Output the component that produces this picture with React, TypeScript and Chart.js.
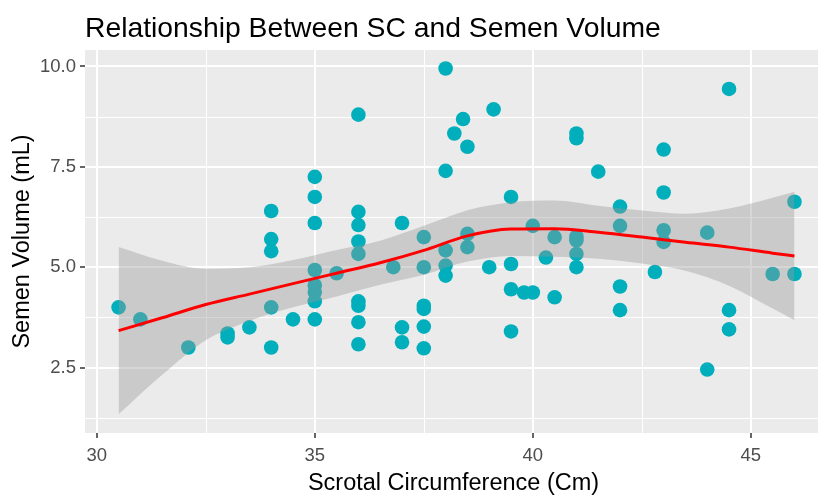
import { useEffect, useRef } from 'react';
import { Chart, registerables } from 'chart.js';

Chart.register(...registerables);

const TITLE = 'Relationship Between SC and Semen Volume';
const X_LABEL = 'Scrotal Circumference (Cm)';
const Y_LABEL = 'Semen Volume (mL)';

const xTicks = [30, 35, 40, 45];
const yTicks = [2.5, 5, 7.5, 10];
const xMinor = [32.5, 37.5, 42.5];
const yMinor = [1.25, 3.75, 6.25, 8.75];

// Observations: scrotal circumference (cm) and semen volume (mL)
const scrotal = [
  30.5, 31.0, 32.1, 33.0, 33.0, 33.5,
  34.0, 34.0, 34.0, 34.0, 34.0, 34.5,
  35.0, 35.0, 35.0, 35.0, 35.0, 35.0, 35.0, 35.0, 35.5,
  36.0, 36.0, 36.0, 36.0, 36.0, 36.0, 36.0, 36.0, 36.0, 36.8,
  37.0, 37.0, 37.0, 37.5, 37.5, 37.5, 37.5, 37.5, 37.5,
  38.0, 38.0, 38.0, 38.0, 38.0, 38.2, 38.4, 38.5, 38.5, 38.5,
  39.0, 39.1, 39.5, 39.5, 39.5, 39.5, 39.8, 40.0, 40.0, 40.3, 40.5, 40.5,
  41.0, 41.0, 41.0, 41.0, 41.0, 41.0, 41.5,
  42.0, 42.0, 42.0, 42.0, 42.8, 43.0, 43.0, 43.0, 43.0,
  44.0, 44.0, 44.5, 44.5, 44.5, 45.5, 46.0, 46.0,
];
const volume = [
  4.0, 3.7, 3.0, 3.35, 3.25, 3.5,
  6.4, 5.7, 5.4, 4.0, 3.0, 3.7,
  7.25, 6.75, 6.1, 4.93, 4.55, 4.38, 4.15, 3.7, 4.85,
  8.8, 6.38, 6.05, 5.64, 5.33, 4.15, 4.04, 3.63, 3.08, 5.0,
  6.1, 3.5, 3.13, 5.75, 5.0, 4.04, 3.96, 3.52, 2.98,
  9.95, 7.4, 5.42, 5.04, 4.79, 8.33, 8.69, 8.0, 5.83, 5.5,
  5.0, 8.93, 6.75, 5.08, 4.45, 3.4, 4.37, 6.03, 4.37, 5.24, 5.75, 4.25,
  8.33, 8.21, 5.76, 5.67, 5.33, 5.0, 7.38,
  6.51, 6.03, 4.52, 3.93, 4.88, 7.93, 6.86, 5.92, 5.63,
  5.86, 2.45, 9.44, 3.93, 3.45, 4.83, 6.63, 4.83,
];

// LOESS smooth with confidence band
const smoothX = [30.5, 31.5, 32.5, 33.5, 34.5, 35.5, 36.5, 37.5, 38.5, 39.5, 40.5, 41.5, 42.5, 43.5, 44.5, 45.5, 46];
const smoothFit = [3.42, 3.74, 4.07, 4.33, 4.59, 4.85, 5.11, 5.42, 5.78, 5.95, 5.96, 5.87, 5.75, 5.62, 5.5, 5.35, 5.28];
const smoothUpper = [5.5, 5.16, 4.96, 5.0, 5.18, 5.43, 5.66, 6.03, 6.42, 6.62, 6.66, 6.53, 6.41, 6.33, 6.46, 6.73, 6.88];
const smoothLower = [1.34, 2.32, 3.18, 3.66, 4.0, 4.27, 4.56, 4.81, 5.14, 5.28, 5.26, 5.21, 5.09, 4.91, 4.54, 3.97, 3.68];

const FONT = '"Liberation Sans", Arial, sans-serif';

const ggPlugin = {
  id: 'ggPanel',
  beforeDraw(chart: any) {
    const { ctx, chartArea, scales } = chart;
    const { left, right, top, bottom } = chartArea;
    const xs = scales.x;
    const ys = scales.y;
    ctx.save();
    ctx.fillStyle = '#EBEBEB';
    ctx.fillRect(left, top, right - left, bottom - top);
    ctx.strokeStyle = '#FFFFFF';
    // minor grid
    ctx.lineWidth = 1;
    ctx.beginPath();
    xMinor.forEach((v) => {
      const p = Math.round(xs.getPixelForValue(v)) + 0.5;
      ctx.moveTo(p, top);
      ctx.lineTo(p, bottom);
    });
    yMinor.forEach((v) => {
      const p = Math.round(ys.getPixelForValue(v)) + 0.5;
      ctx.moveTo(left, p);
      ctx.lineTo(right, p);
    });
    ctx.stroke();
    // major grid
    ctx.lineWidth = 2;
    ctx.beginPath();
    xTicks.forEach((v) => {
      const p = Math.round(xs.getPixelForValue(v));
      ctx.moveTo(p, top);
      ctx.lineTo(p, bottom);
    });
    yTicks.forEach((v) => {
      const p = Math.round(ys.getPixelForValue(v));
      ctx.moveTo(left, p);
      ctx.lineTo(right, p);
    });
    ctx.stroke();
    // tick marks
    ctx.strokeStyle = '#333333';
    ctx.lineWidth = 1.5;
    ctx.beginPath();
    xTicks.forEach((v) => {
      const p = Math.round(xs.getPixelForValue(v));
      ctx.moveTo(p, bottom);
      ctx.lineTo(p, bottom + 5);
    });
    yTicks.forEach((v) => {
      const p = Math.round(ys.getPixelForValue(v));
      ctx.moveTo(left - 5, p);
      ctx.lineTo(left, p);
    });
    ctx.stroke();
    ctx.restore();
  },
  afterDraw(chart: any) {
    const { ctx, chartArea } = chart;
    const { left, right, top, bottom } = chartArea;
    ctx.save();
    ctx.fillStyle = '#000000';
    ctx.font = `28.3px ${FONT}`;
    ctx.textAlign = 'left';
    ctx.textBaseline = 'alphabetic';
    ctx.fillText(TITLE, left, 37);
    ctx.font = `23.5px ${FONT}`;
    ctx.textAlign = 'center';
    ctx.fillText(X_LABEL, (left + right) / 2 + 2, 490);
    ctx.translate(29, (top + bottom) / 2);
    ctx.rotate(-Math.PI / 2);
    ctx.fillText(Y_LABEL, 0, 0);
    ctx.restore();
  },
};

export default function App() {
  const canvasRef = useRef<HTMLCanvasElement | null>(null);

  useEffect(() => {
    const canvas = canvasRef.current;
    if (!canvas) return;
    const points = scrotal.map((x, i) => ({ x, y: volume[i] }));
    const fit = smoothX.map((x, i) => ({ x, y: smoothFit[i] }));
    const upper = smoothX.map((x, i) => ({ x, y: smoothUpper[i] }));
    const lower = smoothX.map((x, i) => ({ x, y: smoothLower[i] }));

    const chart = new Chart(canvas, {
      type: 'scatter',
      data: {
        datasets: [
          {
            type: 'line',
            label: 'fit',
            data: fit,
            borderColor: '#FF0000',
            borderWidth: 3,
            pointRadius: 0,
            pointHoverRadius: 0,
            fill: false,
            cubicInterpolationMode: 'monotone',
            order: 0,
          } as any,
          {
            type: 'line',
            label: 'upper',
            data: upper,
            borderWidth: 0,
            borderColor: 'rgba(0,0,0,0)',
            backgroundColor: 'rgba(153,153,153,0.4)',
            pointRadius: 0,
            pointHoverRadius: 0,
            fill: '+1',
            cubicInterpolationMode: 'monotone',
            order: 1,
          } as any,
          {
            type: 'line',
            label: 'lower',
            data: lower,
            borderWidth: 0,
            borderColor: 'rgba(0,0,0,0)',
            pointRadius: 0,
            pointHoverRadius: 0,
            fill: false,
            cubicInterpolationMode: 'monotone',
            order: 2,
          } as any,
          {
            type: 'scatter',
            label: 'obs',
            data: points,
            backgroundColor: '#00AFBB',
            borderWidth: 0,
            pointRadius: 7.3,
            pointHoverRadius: 7.3,
            order: 3,
          } as any,
        ],
      },
      options: {
        animation: false,
        responsive: false,
        maintainAspectRatio: false,
        layout: { autoPadding: false, padding: { top: 50, right: 2, bottom: 0, left: 0 } },
        plugins: {
          legend: { display: false },
          tooltip: { enabled: false },
          title: { display: false },
        },
        scales: {
          x: {
            type: 'linear',
            min: 29.73,
            max: 46.54,
            grid: { display: false, drawTicks: false },
            border: { display: false },
            afterBuildTicks: (s: any) => {
              s.ticks = xTicks.map((v) => ({ value: v }));
            },
            afterFit: (s: any) => {
              s.height = 65;
              s.paddingLeft = 0;
              s.paddingRight = 0;
            },
            ticks: {
              color: '#4D4D4D',
              font: { family: FONT, size: 18.5 },
              padding: 12,
              maxRotation: 0,
              callback: (v: any) => String(v),
            },
          },
          y: {
            type: 'linear',
            min: 0.87,
            max: 10.41,
            grid: { display: false, drawTicks: false },
            border: { display: false },
            afterBuildTicks: (s: any) => {
              s.ticks = yTicks.map((v) => ({ value: v }));
            },
            afterFit: (s: any) => {
              s.width = 85;
              s.paddingTop = 0;
              s.paddingBottom = 0;
            },
            ticks: {
              color: '#4D4D4D',
              font: { family: FONT, size: 18.5 },
              padding: 9,
              callback: (v: any) => Number(v).toFixed(1),
            },
          },
        },
      },
      plugins: [ggPlugin],
    });
    return () => chart.destroy();
  }, []);

  return (
    <div style={{ position: 'fixed', left: 0, top: 0, width: 820, height: 498, background: '#FFFFFF' }}>
      <canvas ref={canvasRef} width={820} height={498} style={{ width: 820, height: 498, display: 'block' }} />
    </div>
  );
}
